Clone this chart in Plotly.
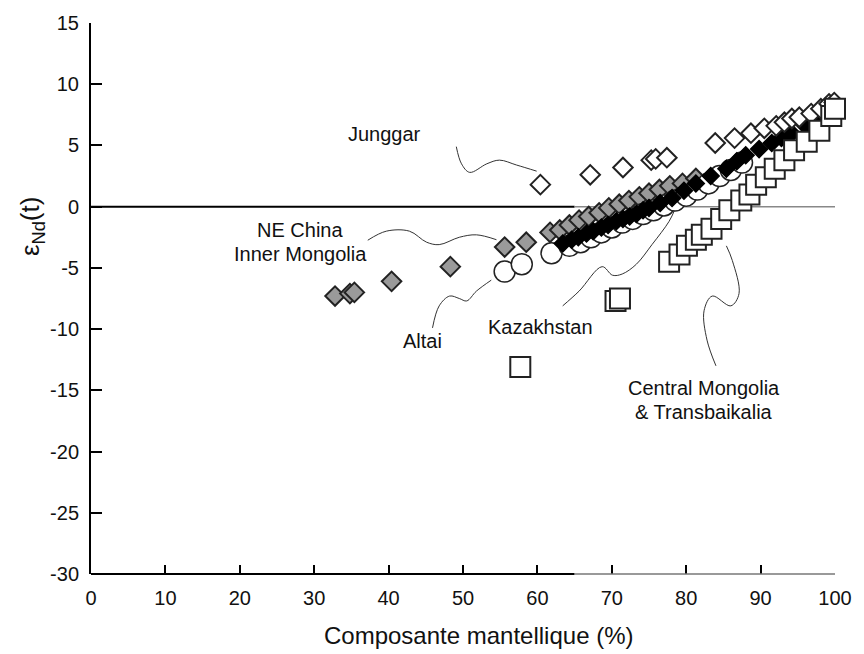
import plotly.graph_objects as go

# ---------------- data ----------------
ne_china_x = [32.8, 34.8, 35.4, 40.4, 48.3, 55.6, 58.5, 61.7, 63.0, 64.3, 65.6, 66.9, 68.3,
              69.6, 71.0, 72.3, 73.7, 75.0, 76.4, 77.8, 79.5, 81.3]
ne_china_y = [-7.3, -7.1, -7.0, -6.1, -4.9, -3.3, -2.9, -2.1, -1.9, -1.5, -1.1, -0.8, -0.5,
              -0.1, 0.2, 0.5, 0.8, 1.1, 1.4, 1.7, 1.9, 2.3]

altai_x = [55.6, 57.9, 61.9, 64.3, 65.8, 67.2, 68.6, 70.0, 71.4, 72.8, 74.2, 75.6, 77.0,
           78.5, 80.0, 81.5, 83.0, 84.5, 86.0, 87.5]
altai_y = [-5.3, -4.7, -3.8, -3.2, -2.9, -2.5, -2.1, -1.7, -1.3, -1.0, -0.6, -0.3, 0.1,
           0.5, 0.9, 1.4, 1.9, 2.5, 3.0, 3.6]

kaz_x = [63.4, 64.6, 65.5, 66.6, 67.5, 68.6, 69.5, 70.6, 71.5, 72.4, 73.3, 74.2, 75.0, 76.5,
         78.1, 79.7, 81.3, 83.3, 85.4, 86.8, 88.0, 89.8, 91.5, 92.8, 94.2, 96.0, 97.9, 99.6]
kaz_y = [-3.0, -2.7, -2.5, -2.2, -2.0, -1.7, -1.5, -1.2, -1.0, -0.8, -0.6, -0.3, -0.1, 0.3,
         0.7, 1.3, 1.9, 2.5, 3.1, 3.7, 4.2, 4.7, 5.2, 5.6, 6.0, 6.6, 7.3, 8.0]

junggar_x = [60.4, 67.1, 71.5, 75.3, 75.9, 77.4, 83.9, 86.5, 88.7, 90.5, 92.1, 93.2, 94.2,
             95.2, 96.8, 98.1, 99.2, 99.9]
junggar_y = [1.8, 2.6, 3.2, 3.8, 3.9, 4.0, 5.2, 5.6, 6.0, 6.4, 6.6, 6.9, 7.2,
             7.3, 7.6, 8.0, 8.4, 8.5]

cm_x = [57.7, 70.5, 71.1, 77.7, 79.1, 80.1, 81.3, 82.1, 83.4, 84.7, 85.8, 87.4, 88.5,
        89.4, 90.7, 91.9, 93.2, 94.5, 96.2, 97.9, 99.5, 100.0]
cm_y = [-13.1, -7.7, -7.5, -4.5, -3.9, -3.2, -2.7, -2.3, -1.8, -1.0, -0.3, 0.5, 1.0,
        1.8, 2.4, 3.1, 3.8, 4.6, 5.3, 6.2, 7.4, 8.0]

x_ticks = [0, 10, 20, 30, 40, 50, 60, 70, 80, 90, 100]
y_ticks = [15, 10, 5, 0, -5, -10, -15, -20, -25, -30]

FONT = "Liberation Sans, Arial, sans-serif"

fig = go.Figure()

# leader curves (annotation geometry)
leaders = [
    ([49.1, 49.8, 50.9, 53.2, 54.9, 57.2, 59.9], [4.9, 3.5, 2.8, 3.5, 3.8, 3.4, 2.9]),
    ([37.2, 39.7, 42.8, 45.1, 46.8, 49.5, 51.8, 54.5], [-2.74, -2.0, -2.0, -2.9, -3.1, -2.5, -2.3, -2.7]),
    ([45.9, 46.8, 48.2, 49.5, 50.5, 51.8, 53.8], [-9.9, -8.1, -7.3, -7.5, -7.7, -6.9, -6.0]),
    ([63.4, 65.6, 68.7, 70.1, 71.4, 73.3, 75.4, 77.7, 78.5], [-8.1, -6.9, -4.9, -5.6, -5.5, -4.7, -3.1, -1.2, -0.2]),
    ([85.4, 86.2, 87.1, 86.0, 83.5, 82.4, 82.8, 84.0], [-3.2, -4.4, -7.1, -8.1, -7.3, -8.5, -10.9, -13.0]),
]
for lx, ly in leaders:
    fig.add_trace(go.Scatter(x=lx, y=ly, mode="lines", line=dict(color="#333333", width=1, shape="spline"),
                             hoverinfo="skip", showlegend=False))

# zero line: black then grey
fig.add_shape(type="line", x0=0, x1=65, y0=0, y1=0, line=dict(color="black", width=2), layer="below")
fig.add_shape(type="line", x0=65, x1=100, y0=0, y1=0, line=dict(color="#888888", width=1.5), layer="below")
# bottom axis line (paper coords so it is not clipped): black then grey
fig.add_shape(type="line", xref="paper", yref="paper", x0=0, x1=0.65, y0=0, y1=0,
              line=dict(color="black", width=2))
fig.add_shape(type="line", xref="paper", yref="paper", x0=0.65, x1=1.0, y0=0, y1=0,
              line=dict(color="#777777", width=1.5))

fig.add_trace(go.Scatter(x=ne_china_x, y=ne_china_y, mode="markers", name="NE China / Inner Mongolia",
                         marker=dict(symbol="diamond", size=15, color="#9a9a9a",
                                     line=dict(color="#222222", width=2)), cliponaxis=False))
fig.add_trace(go.Scatter(x=altai_x, y=altai_y, mode="markers", name="Altai",
                         marker=dict(symbol="circle", size=21, color="white",
                                     line=dict(color="#222222", width=1.5)), cliponaxis=False))
fig.add_trace(go.Scatter(x=kaz_x, y=kaz_y, mode="markers", name="Kazakhstan",
                         marker=dict(symbol="diamond", size=13, color="black",
                                     line=dict(color="black", width=1.5)), cliponaxis=False))
fig.add_trace(go.Scatter(x=junggar_x, y=junggar_y, mode="markers", name="Junggar",
                         marker=dict(symbol="diamond", size=15, color="white",
                                     line=dict(color="#222222", width=2)), cliponaxis=False))
fig.add_trace(go.Scatter(x=cm_x, y=cm_y, mode="markers", name="Central Mongolia & Transbaikalia",
                         marker=dict(symbol="square", size=20, color="white",
                                     line=dict(color="#222222", width=2)), cliponaxis=False))

labels = [
    ("Junggar", 39.5, 5.9),
    ("NE China", 28.1, -1.9),
    ("Inner Mongolia", 28.1, -3.9),
    ("Altai", 44.6, -11.0),
    ("Kazakhstan", 60.4, -9.8),
    ("Central Mongolia", 82.4, -14.8),
    ("&amp; Transbaikalia", 82.4, -16.8),
]
for t, x, y in labels:
    fig.add_annotation(x=x, y=y, text=t, showarrow=False, xanchor="center", yanchor="middle",
                       font=dict(family=FONT, size=20, color="#111111"))

# axis titles
fig.add_annotation(xref="paper", yref="paper", x=0.521, y=-0.111, text="Composante mantellique (%)",
                   showarrow=False, xanchor="center", yanchor="middle",
                   font=dict(family=FONT, size=24, color="#111111"))
fig.add_annotation(xref="paper", yref="paper", x=-0.079, y=0.63, text="ε<sub>Nd</sub>(t)",
                   showarrow=False, xanchor="center", yanchor="middle", textangle=-90,
                   font=dict(family=FONT, size=26, color="#111111"))

fig.update_layout(
    width=864, height=654,
    margin=dict(l=91, r=28, t=16, b=80),
    paper_bgcolor="white", plot_bgcolor="white",
    showlegend=False,
    font=dict(family=FONT, color="#111111"),
    xaxis=dict(range=[0, 100], tickvals=x_ticks, ticktext=[str(v) for v in x_ticks],
               ticks="inside", ticklen=9, tickwidth=1.5, tickcolor="black",
               showline=False, showgrid=False, zeroline=False,
               tickfont=dict(size=20, family=FONT), ticklabelstandoff=10),
    yaxis=dict(range=[-30, 15], tickvals=y_ticks, ticktext=[str(v) for v in y_ticks],
               ticks="inside", ticklen=11, tickwidth=2, tickcolor="black",
               showline=True, linecolor="black", linewidth=2,
               showgrid=False, zeroline=False,
               tickfont=dict(size=20, family=FONT), ticklabelstandoff=6),
)

fig.write_html("out.html", config={"displayModeBar": False},
               post_script="document.body.style.margin='0';")
